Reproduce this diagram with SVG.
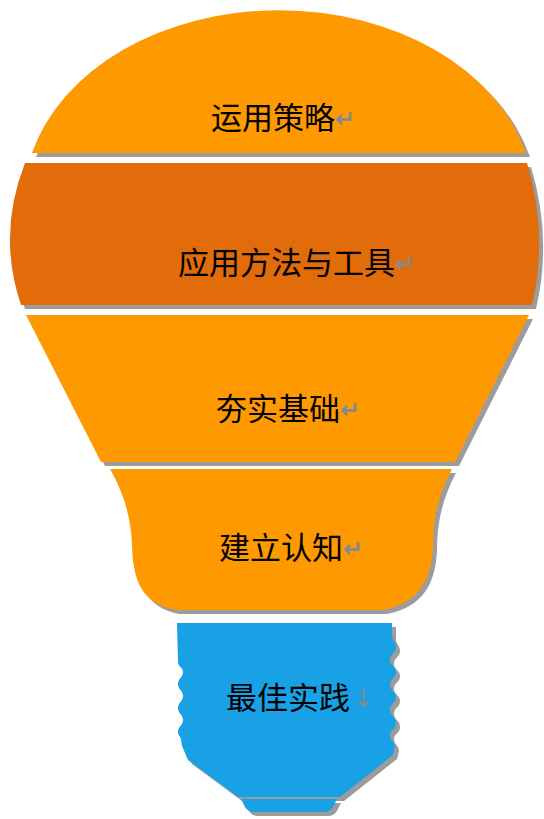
<svg xmlns="http://www.w3.org/2000/svg" xmlns:xlink="http://www.w3.org/1999/xlink" width="544" height="819" viewBox="0 0 544 819">
<style>
.shadow{fill:#9c9c9c}
.light{fill:#FE9A00}
.dark{fill:#E26B0A}
.blue{fill:#19A1E6}
.lbl{font-family:"Noto Sans CJK SC","Noto Sans",sans-serif;font-size:31px;fill:#000}
.pm{font-family:"DejaVu Sans",sans-serif;font-size:24px;font-weight:bold;fill:#888888}
</style>
<defs>
<path id="s1" d="M32,153 A255,190 0 0 1 526,153 Z"/>
<path id="s2" d="M25,163 L527,163 Q548.5,234 532,305 L21,305 Q-3,234 25,163 Z"/>
<path id="s3" d="M26,315 L529,315 L455,462 L101,462 Z"/>
<path id="s4" d="M110,469 L452,469 C438,495 433,520 433,545 C432,578 420,603 383,610 L175,610 C140,603 133,578 132,545 C131,520 125,495 110,469 Z"/>
<path id="s5" d="M177,623 L392,623 L392,635 C392,641 396,641 396,647 C396,654 390,653 390,660 C390,666 396,666 396,672 C396,679 390,678 390,685 C390,691 396,691 396,697 C396,704 390,703 390,710 C390,716 396,716 396,723 C396,730 390,729 390,735 C390,741 395,741 395,747 L393,755 L340,797 L238,797 L188,760 L182,746 L181,740 C181,736 178,736 178,732 C178,726 183,726 183,720 C183,714 178,714 178,708 C178,702 183,702 183,696 C183,690 178,690 178,684 C178,678 183,678 183,672 C183,667 178,667 178,662 Z"/>
<path id="s6" d="M241,799 L337,799 L333,807 Q330,812 324,812 L254,812 Q248,812 245,807 Z"/>
</defs>
<g id="node-strategy">
<use xlink:href="#s1" class="shadow" transform="translate(4,4)"/>
<use xlink:href="#s1" class="light"/>
<text class="lbl" x="211" y="129">运用策略<tspan class="pm" dy="-2">↵</tspan></text>
</g>
<g id="node-methods">
<use xlink:href="#s2" class="shadow" transform="translate(4,4)"/>
<use xlink:href="#s2" class="dark"/>
<text class="lbl" x="178" y="274">应用方法与工具<tspan class="pm" dy="-2">↵</tspan></text>
</g>
<g id="node-foundation">
<use xlink:href="#s3" class="shadow" transform="translate(4,4)"/>
<use xlink:href="#s3" class="light"/>
<text class="lbl" x="216" y="420">夯实基础<tspan class="pm" dy="-2">↵</tspan></text>
</g>
<g id="node-cognition">
<use xlink:href="#s4" class="shadow" transform="translate(4,4)"/>
<use xlink:href="#s4" class="light"/>
<text class="lbl" x="219" y="559">建立认知<tspan class="pm" dy="-2">↵</tspan></text>
</g>
<g id="node-practice">
<use xlink:href="#s5" class="shadow" transform="translate(4,4)"/>
<use xlink:href="#s6" class="shadow" transform="translate(4,4)"/>
<use xlink:href="#s5" class="blue"/>
<use xlink:href="#s6" class="blue"/>
<text class="lbl" x="226" y="709">最佳实践<tspan class="pm" dx="3" dy="-2" style="font-weight:normal">↓</tspan></text>
</g>
<g id="connectors"/>
</svg>
